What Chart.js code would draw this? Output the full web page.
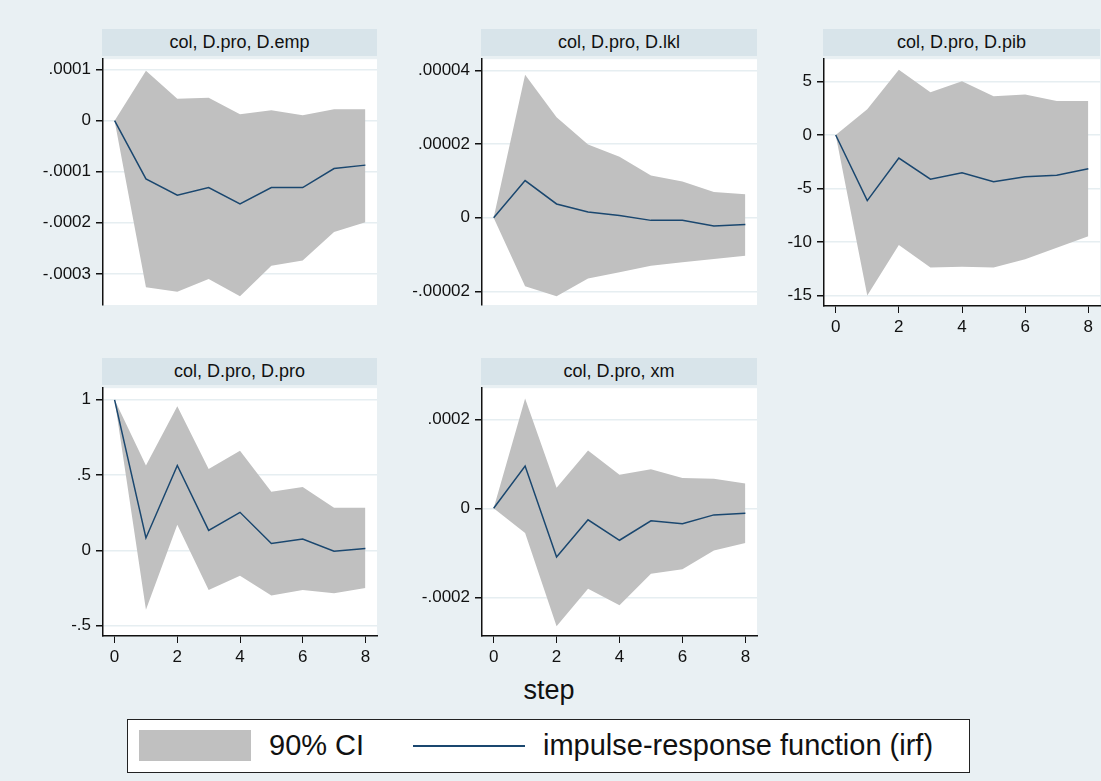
<!DOCTYPE html>
<html>
<head>
<meta charset="utf-8">
<script src="https://cdn.jsdelivr.net/npm/chart.js@4/dist/chart.umd.min.js"></script>
<style>
  body { margin: 0; background: #e9f0f3; }
  #wrap { position: relative; width: 1101px; height: 781px; background: #e9f0f3; font-family: Arial, "Liberation Sans", sans-serif; overflow: hidden; }
  canvas { position: absolute; }
  .strip { position: absolute; background: #d8e4ea; color: #111; font-size: 18px; display: flex; align-items: center; justify-content: center; }
  #step { position: absolute; left: 449px; width: 200px; top: 677px; text-align: center; font-size: 27px; line-height: 27px; color: #111; }
  #legend { position: absolute; left: 127px; top: 719px; width: 841px; height: 52px; background: #fff; border: 1.5px solid #222; }
  #legend .sw { position: absolute; left: 11px; top: 10px; width: 112px; height: 31px; background: #c0c0c0; }
  #legend .ln { position: absolute; left: 285px; top: 25px; width: 112px; height: 2px; background: #1a476f; }
  #legend .tx { position: absolute; top: 11px; font-size: 29px; line-height: 29px; color: #111; white-space: nowrap; }
</style>
</head>
<body>
<div id="wrap">
  <div id="step">step</div>
  <div id="legend">
    <div class="sw"></div>
    <div class="tx" style="left:141px">90% CI</div>
    <div class="ln"></div>
    <div class="tx" style="left:415px">impulse-response function (irf)</div>
  </div>
</div>
<script>
const steps = [0, 1, 2, 3, 4, 5, 6, 7, 8];
const xTicks = [0, 2, 4, 6, 8];

// col, D.pro, D.emp
const empIrf = [0, -0.000114, -0.000146, -0.000131, -0.000163, -0.000131, -0.000131, -0.0000936, -0.000087];
const empHi  = [0, 0.0000979, 0.0000431, 0.000045, 0.0000128, 0.0000205, 0.0000108, 0.0000224, 0.0000224];
const empLo  = [0, -0.000326, -0.000335, -0.00031, -0.000344, -0.000284, -0.000274, -0.000218, -0.000199];
const empTicks = [-0.0003, -0.0002, -0.0001, 0, 0.0001];
const empLabels = ['-.0003', '-.0002', '-.0001', '0', '.0001'];

// col, D.pro, D.lkl
const lklIrf = [0, 0.0000101, 0.00000376, 0.0000016, 0.00000064, -0.0000007, -0.0000007, -0.0000022, -0.0000018];
const lklHi  = [0, 0.0000389, 0.0000273, 0.0000199, 0.0000166, 0.0000115, 0.00000985, 0.000007, 0.0000064];
const lklLo  = [0, -0.0000186, -0.0000213, -0.0000165, -0.0000148, -0.000013, -0.0000121, -0.0000112, -0.0000103];
const lklTicks = [-0.00002, 0, 0.00002, 0.00004];
const lklLabels = ['-.00002', '0', '.00002', '.00004'];

// col, D.pro, D.pib
const pibIrf = [0, -6.12, -2.15, -4.12, -3.53, -4.36, -3.9, -3.75, -3.14];
const pibHi  = [0, 2.4, 6.09, 4.0, 5.02, 3.63, 3.78, 3.17, 3.17];
const pibLo  = [0, -14.97, -10.27, -12.36, -12.3, -12.36, -11.59, -10.52, -9.44];
const pibTicks = [-15, -10, -5, 0, 5];
const pibLabels = ['-15', '-10', '-5', '0', '5'];

// col, D.pro, D.pro
const proIrf = [1, 0.083, 0.564, 0.133, 0.253, 0.046, 0.076, -0.005, 0.013];
const proHi  = [1, 0.564, 0.957, 0.541, 0.662, 0.389, 0.421, 0.284, 0.284];
const proLo  = [1, -0.393, 0.17, -0.262, -0.168, -0.299, -0.262, -0.284, -0.249];
const proTicks = [-0.5, 0, 0.5, 1];
const proLabels = ['-.5', '0', '.5', '1'];

// col, D.pro, xm
const xmIrf = [0, 0.0000949, -0.0001096, -0.0000259, -0.0000718, -0.0000281, -0.0000348, -0.0000148, -0.0000111];
const xmHi  = [0, 0.000247, 0.000046, 0.00013, 0.0000756, 0.0000876, 0.0000682, 0.0000667, 0.0000556];
const xmLo  = [0, -0.0000556, -0.000265, -0.000181, -0.000218, -0.000147, -0.000137, -0.0000947, -0.0000778];
const xmTicks = [-0.0002, 0, 0.0002];
const xmLabels = ['-.0002', '0', '.0002'];

const panels = [
  { title: 'col, D.pro, D.emp', irf: empIrf, hi: empHi, lo: empLo, ticks: empTicks, labels: empLabels,
    ymin: -0.000361, ymax: 0.0001205, box: [103, 56, 377, 305], xaxis: false },
  { title: 'col, D.pro, D.lkl', irf: lklIrf, hi: lklHi, lo: lklLo, ticks: lklTicks, labels: lklLabels,
    ymin: -0.0000237, ymax: 0.0000431, box: [482, 56, 757, 305], xaxis: false },
  { title: 'col, D.pro, D.pib', irf: pibIrf, hi: pibHi, lo: pibLo, ticks: pibTicks, labels: pibLabels,
    ymin: -15.96, ymax: 7.08, box: [824, 56, 1100, 306], xaxis: true },
  { title: 'col, D.pro, D.pro', irf: proIrf, hi: proHi, lo: proLo, ticks: proTicks, labels: proLabels,
    ymin: -0.568, ymax: 1.077, box: [103, 385, 377, 636], xaxis: true },
  { title: 'col, D.pro, xm', irf: xmIrf, hi: xmHi, lo: xmLo, ticks: xmTicks, labels: xmLabels,
    ymin: -0.000287, ymax: 0.00027, box: [482, 385, 757, 636], xaxis: true }
];

const plotBg = {
  id: 'plotBg',
  beforeDraw(chart) {
    const a = chart.chartArea, c = chart.ctx;
    c.save();
    c.fillStyle = '#ffffff';
    c.fillRect(a.left, a.top, a.right - a.left, a.bottom - a.top);
    c.restore();
  }
};

const wrap = document.getElementById('wrap');
const pts = arr => steps.map((s, i) => ({ x: s, y: arr[i] }));

panels.forEach(p => {
  const [l, t, r, b] = p.box;
  const padL = 100, padT = 12, padR = 4, padB = 40;

  const strip = document.createElement('div');
  strip.className = 'strip';
  strip.style.left = (l - 1) + 'px';
  strip.style.top = (t - 27) + 'px';
  strip.style.width = (r - l + 1) + 'px';
  strip.style.height = '27px';
  strip.textContent = p.title;
  wrap.appendChild(strip);

  const cv = document.createElement('canvas');
  cv.width = r - l + padL + padR;
  cv.height = b - t + padT + padB;
  cv.style.left = (l - padL) + 'px';
  cv.style.top = (t - padT) + 'px';
  wrap.appendChild(cv);

  new Chart(cv, {
    type: 'line',
    data: {
      datasets: [
        { label: 'irf', data: pts(p.irf), borderColor: '#1a476f', borderWidth: 1.5, pointRadius: 0, fill: false },
        { label: 'hi', data: pts(p.hi), borderWidth: 0, pointRadius: 0, backgroundColor: '#c0c0c0', fill: '+1' },
        { label: 'lo', data: pts(p.lo), borderWidth: 0, pointRadius: 0, fill: false }
      ]
    },
    options: {
      responsive: false,
      animation: false,
      layout: { padding: { top: padT, right: padR, left: 0, bottom: 0 } },
      plugins: { legend: { display: false }, tooltip: { enabled: false } },
      scales: {
        x: {
          type: 'linear',
          min: -0.37,
          max: 8.37,
          afterFit: s => { s.height = padB; },
          afterBuildTicks: s => { s.ticks = xTicks.map(v => ({ value: v })); },
          ticks: { display: p.xaxis, color: '#111', font: { family: 'Arial', size: 17 }, padding: 4, maxRotation: 0 },
          grid: { display: p.xaxis, drawOnChartArea: false, drawTicks: true, tickLength: 7, tickColor: '#111' },
          border: { display: p.xaxis, color: '#111', width: 1.5 }
        },
        y: {
          min: p.ymin,
          max: p.ymax,
          afterFit: s => { s.width = padL; },
          afterBuildTicks: s => { s.ticks = p.ticks.map(v => ({ value: v })); },
          ticks: { color: '#111', font: { family: 'Arial', size: 17 }, padding: 5,
                   callback: (v, i) => p.labels[i] },
          grid: { color: '#e6eef1', lineWidth: 1.5, tickLength: 7, tickColor: '#111' },
          border: { display: true, color: '#111', width: 1.5 }
        }
      }
    },
    plugins: [plotBg]
  });
});
</script>
</body>
</html>
